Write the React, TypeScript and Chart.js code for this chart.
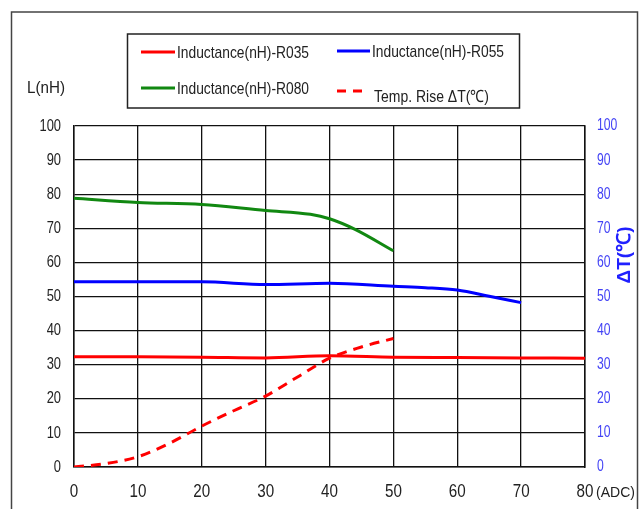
import React, { useEffect, useRef } from "react";
import { Chart, registerables } from "chart.js";

Chart.register(...registerables);

const xTicks = [0, 10, 20, 30, 40, 50, 60, 70, 80];
const yTicks = [0, 10, 20, 30, 40, 50, 60, 70, 80, 90, 100];
const r035X = [0, 10, 20, 30, 40, 50, 60, 70, 80];
const r035Y = [32.3, 32.3, 32.2, 32.0, 32.6, 32.2, 32.1, 32.0, 31.9];
const r055X = [0, 10, 20, 30, 40, 50, 55, 60, 65, 70];
const r055Y = [54.3, 54.3, 54.3, 53.5, 53.9, 53.0, 52.6, 51.9, 50.1, 48.2];
const r080X = [0, 10, 20, 30, 37, 40, 44, 50];
const r080Y = [78.8, 77.6, 77.0, 75.2, 74.1, 72.8, 69.7, 63.4];
const tempX = [0, 5, 10, 15, 20, 25, 30, 35, 40, 45, 50];
const tempY = [0, 1.0, 3.0, 7.0, 12.0, 16.5, 20.8, 26.4, 31.9, 35.2, 37.7];

const legendLabels = [
  "Inductance(nH)-R035",
  "Inductance(nH)-R055",
  "Inductance(nH)-R080",
  "Temp. Rise \u0394T(\u2103)",
];

const FONT = "'Liberation Sans', Arial, sans-serif";

const pts = (xs: number[], ys: number[]) => xs.map((x, i) => ({ x, y: ys[i] }));

function condensed(ctx: CanvasRenderingContext2D, text: string, x: number, y: number, align: "left" | "right" | "center", sq: number) {
  ctx.save();
  ctx.translate(x, y);
  ctx.scale(sq, 1);
  ctx.textAlign = align;
  ctx.fillText(text, 0, 0);
  ctx.restore();
}

const decor = {
  id: "decor",
  beforeDraw(chart: any) {
    const ctx = chart.ctx;
    ctx.save();
    ctx.fillStyle = "#fff";
    ctx.fillRect(0, 0, chart.width, chart.height);
    ctx.strokeStyle = "#444";
    ctx.lineWidth = 1.5;
    ctx.strokeRect(11.5, 12, 626, 520);
    ctx.restore();
  },
  afterDraw(chart: any) {
    const ctx = chart.ctx;
    ctx.save();
    ctx.textBaseline = "middle";
    const sx = chart.scales.x;
    const sy = chart.scales.y;
    const sy1 = chart.scales.y1;
    ctx.font = `19px ${FONT}`;
    ctx.fillStyle = "#222";
    xTicks.forEach((v) => condensed(ctx, String(v), sx.getPixelForValue(v), sx.top + 25, "center", 0.8));
    ctx.font = `17px ${FONT}`;
    yTicks.forEach((v) => condensed(ctx, String(v), sy.right - 13, sy.getPixelForValue(v), "right", 0.76));
    ctx.font = `16px ${FONT}`;
    ctx.fillStyle = "#4343f5";
    yTicks.forEach((v) => condensed(ctx, String(v), sy1.left + 12, sy1.getPixelForValue(v), "left", 0.76));

    ctx.strokeStyle = "#222";
    ctx.lineWidth = 1.5;
    ctx.strokeRect(127.5, 34, 392, 74);
    ctx.font = `17px ${FONT}`;
    ctx.fillStyle = "#222";
    ctx.textAlign = "left";
    const drawLine = (x1: number, x2: number, y: number, c: string, dash: number[]) => {
      ctx.beginPath();
      ctx.setLineDash(dash);
      ctx.strokeStyle = c;
      ctx.lineWidth = 3;
      ctx.moveTo(x1, y);
      ctx.lineTo(x2, y);
      ctx.stroke();
      ctx.setLineDash([]);
    };
    drawLine(141, 175, 52, "#ff0000", []);
    ctx.fillText(legendLabels[0], 177, 53, 132);
    drawLine(337, 370, 51, "#0000ff", []);
    ctx.fillText(legendLabels[1], 372, 52, 132);
    drawLine(141, 175, 88, "#118811", []);
    ctx.fillText(legendLabels[2], 177, 89, 132);
    drawLine(337, 364, 91, "#ff0000", [9, 7]);
    ctx.fillText(legendLabels[3], 374, 97, 115);
    ctx.font = `17px ${FONT}`;
    ctx.fillText("L(nH)", 27, 88, 38);
    ctx.font = `15px ${FONT}`;
    ctx.fillText("(ADC)", 596, 493, 39);
    ctx.translate(625, 255);
    ctx.rotate(-Math.PI / 2);
    ctx.textAlign = "center";
    ctx.font = `bold 19px ${FONT}`;
    ctx.fillStyle = "#2020ff";
    ctx.fillText("\u0394T(\u2103)", 0, 0, 62);
    ctx.restore();
  },
};

export default function App() {
  const ref = useRef<HTMLCanvasElement>(null);
  useEffect(() => {
    if (!ref.current) return;
    const common = { fill: false, pointRadius: 0, borderWidth: 3, cubicInterpolationMode: "monotone" as const };
    const chart = new Chart(ref.current, {
      type: "line",
      data: {
        datasets: [
          { ...common, label: legendLabels[0], data: pts(r035X, r035Y), borderColor: "#ff0000", yAxisID: "y" },
          { ...common, label: legendLabels[1], data: pts(r055X, r055Y), borderColor: "#0000ff", yAxisID: "y" },
          { ...common, label: legendLabels[2], data: pts(r080X, r080Y), borderColor: "#118811", yAxisID: "y" },
          { ...common, label: legendLabels[3], data: pts(tempX, tempY), borderColor: "#ff0000", borderDash: [10, 7], yAxisID: "y1" },
        ],
      },
      options: {
        animation: false,
        responsive: false,
        devicePixelRatio: 1,
        layout: { padding: { top: 126, left: 0, right: 0, bottom: 0 } },
        plugins: { legend: { display: false }, tooltip: { enabled: false } },
        scales: {
          x: {
            type: "linear",
            min: 0,
            max: 80,
            afterBuildTicks: (s: any) => { s.ticks = xTicks.map((v) => ({ value: v })); },
            afterFit: (s: any) => { s.height = 42; },
            grid: { color: "#111", lineWidth: 1.3, drawTicks: false },
            border: { display: true, color: "#111", width: 1.5 },
            ticks: { display: false },
          },
          y: {
            position: "left",
            min: 0,
            max: 100,
            afterFit: (s: any) => { s.width = 74; },
            grid: { color: "#111", lineWidth: 1.3, drawTicks: false },
            border: { display: true, color: "#111", width: 1.5 },
            ticks: { stepSize: 10, display: false },
          },
          y1: {
            position: "right",
            min: 0,
            max: 100,
            afterFit: (s: any) => { s.width = 59; },
            grid: { display: false, drawTicks: false },
            border: { display: true, color: "#111", width: 1.5 },
            ticks: { stepSize: 10, display: false },
          },
        },
      },
      plugins: [decor],
    });
    return () => chart.destroy();
  }, []);
  return (
    <div style={{ position: "fixed", left: 0, top: 0, width: 644, height: 509, background: "#fff" }}>
      <canvas ref={ref} width={644} height={509} />
    </div>
  );
}
